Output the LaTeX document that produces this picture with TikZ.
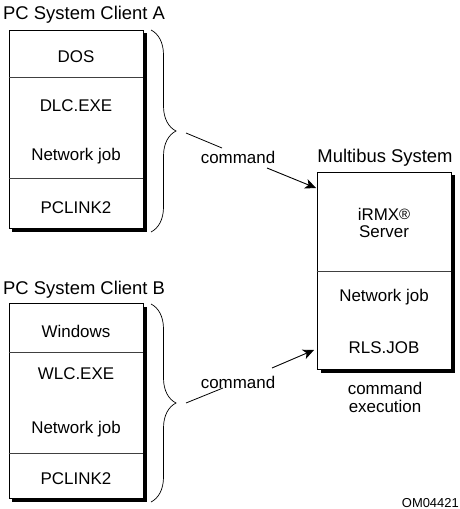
\documentclass[tikz,border=0pt]{standalone}
\usepackage{fontspec}
\setmainfont{Liberation Sans}
\usetikzlibrary{arrows.meta,decorations.pathreplacing,shadows}
\begin{document}
\begin{tikzpicture}[x=1bp,y=-1bp,
  lab/.style={font=\fontsize{17}{20}\selectfont, inner sep=0, anchor=base},
  ttl/.style={font=\fontsize{18.5}{22}\selectfont, inner sep=0, anchor=base west},
  panel/.style={draw=black, line width=0.9bp, fill=white, inner sep=0,
    drop shadow={shadow xshift=3.5bp, shadow yshift=-3.5bp, fill=black, opacity=1}},
  divider/.style={draw=black!75, line width=0.7bp},
  brc/.style={decorate, decoration={brace, amplitude=25bp}, line width=0.7bp},
  conn/.style={line width=0.8bp},
  arr/.style={line width=0.9bp, -{Stealth[length=11bp,width=10bp,inset=3bp]}}]
\useasboundingbox[fill=white] (0,0) rectangle (460,509);

% Client A
\node[ttl] (tA) at (3,20) {PC System Client A};
\node[panel, minimum width=134bp, minimum height=198bp] (A) at (76,129) {};
\draw[divider] (A.west |- 0,77) -- (A.east |- 0,77);
\draw[divider] (A.west |- 0,178) -- (A.east |- 0,178);
\node[lab] (a1) at (76,63) {DOS};
\node[lab] (a2) at (76,112) {DLC.EXE};
\node[lab] (a3) at (76,161) {Network job};
\node[lab] (a4) at (76,213) {PCLINK2};

% Client B
\node[ttl] (tB) at (3,294) {PC System Client B};
\node[panel, minimum width=134bp, minimum height=195bp] (B) at (76,401) {};
\draw[divider] (B.west |- 0,352) -- (B.east |- 0,352);
\draw[divider] (B.west |- 0,453) -- (B.east |- 0,453);
\node[lab] (b1) at (76,337) {Windows};
\node[lab] (b2) at (76,379) {WLC.EXE};
\node[lab] (b3) at (76,433) {Network job};
\node[lab] (b4) at (76,484) {PCLINK2};

% Multibus
\node[ttl, anchor=base] (tS) at (385,163) {Multibus System};
\node[panel, minimum width=134bp, minimum height=197bp] (S) at (384,270.5) {};
\draw[divider] (S.west |- 0,271) -- (S.east |- 0,271);
\node[lab] (s1) at (384,220) {iRMX{\fontsize{15}{15}\selectfont\raisebox{0.5bp}{®}}};
\node[lab] (s2) at (384,237) {Server};
\node[lab] (s3) at (384,301) {Network job};
\node[lab] (s4) at (384,353) {RLS.JOB};
\node[lab] (ex1) at (385,394) {command};
\node[lab] (ex2) at (385,412) {execution};

% braces
\coordinate (brAt) at (151,30);
\coordinate (brAb) at (151,232);
\draw[brc] (brAt) -- (brAb);
\coordinate (brBt) at (151,304);
\coordinate (brBb) at (151,502);
\draw[brc] (brBt) -- (brBb);

% commands
\node[lab] (cA) at (238,164) {command};
\node[lab] (cB) at (238,388) {command};
\coordinate (tipA) at (186,133);
\coordinate (lnA) at (222,148);
\coordinate (tipB) at (186,403);
\coordinate (lnB) at (223,388);
\draw[conn] (tipA) -- (lnA);
\draw[conn] (tipB) -- (lnB);
\coordinate (arAs) at (267,168);
\coordinate (arAe) at (316,188);
\coordinate (arBs) at (272,368);
\coordinate (arBe) at (314,350);
\draw[arr] (arAs) -- (arAe);
\draw[arr] (arBs) -- (arBe);

\node[font=\fontsize{13}{15}\selectfont, inner sep=0, anchor=base east] (om) at (459,507) {OM04421};
\end{tikzpicture}
\end{document}
